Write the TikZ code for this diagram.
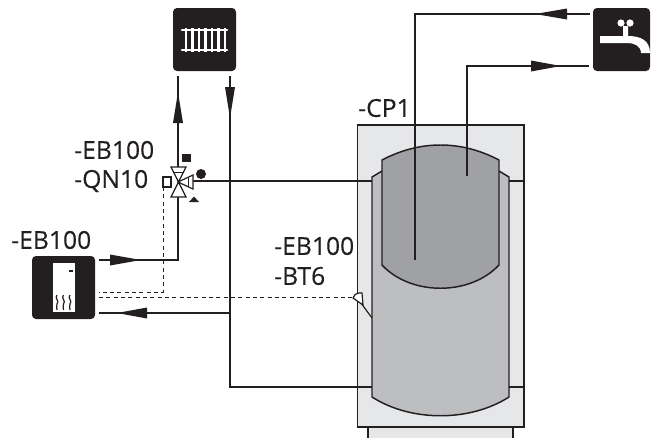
\documentclass[tikz,border=0pt]{standalone}
\usepackage{fontspec}
\setsansfont{Open Sans}[FakeBold=0.35]
\definecolor{casing}{HTML}{E6E7E8}
\definecolor{tanklow}{HTML}{BCBEC0}
\definecolor{tankup}{HTML}{A0A1A5}
\definecolor{icon}{HTML}{231F20}
\tikzset{
  pipe/.style={line width=1.1pt,draw=icon},
  signal/.style={line width=0.6pt,draw=icon,dash pattern=on 3pt off 2.5pt},
  outline/.style={line width=1.1pt,draw=icon},
  iconbox/.style={fill=icon,rounded corners=3pt},
  label/.style={font=\sffamily\fontsize{18.5}{18.5}\selectfont,text=icon,anchor=west,inner sep=0pt}
}
\begin{document}
\begin{tikzpicture}[x=0.75pt,y=-0.75pt]
    \useasboundingbox (0,0) rectangle (662,437);
    % casing
    \draw[outline,fill=casing] (368,427) rectangle (513,445);
    \draw[outline,fill=casing] (357.5,125) rectangle (524,427);
    % tanks
    \draw[outline,fill=tanklow] (372,397) -- (372,177) -- (382,171) -- (499,171) -- (509,177) -- (509,397) .. controls (470,422) and (411,422) .. (372,397) -- cycle;
    \draw[outline,fill=tankup] (382,265) -- (382,160) .. controls (420,140) and (461,140) .. (499,160) -- (499,265) .. controls (470,296) and (411,296) .. (382,265) -- cycle;
    % points
    \foreach \name/\x/\y in {hotin/415/260, hotbend/415/14, hotend/590/14, coldin/467/176, coldbend/467/66, coldend/589/66,
        valvetop/178/167, radup/178/76, valvebot/178/197, hpbend/178/260, hpout/99/260, raddown/230/76, retbend/230/387,
        tankret/372/387, hpret/99/313, retjoin/230/313, valveright/193/181, tankfeed/372/181, stubal/509/181, stuba/524/181,
        stubbl/509/387, stubb/524/387, sigbox/163/187, sigbend/163/292, sighp/99/292, sigtank/99/297, sensor/353/297} {
        \coordinate (\name) at (\x,\y);
    }
    % pipes
    \draw[pipe] (hotin) -- (hotbend) -- (hotend);
    \draw[pipe] (coldin) -- (coldbend) -- (coldend);
    \draw[pipe] (valvetop) -- (radup);
    \draw[pipe] (valvebot) -- (hpbend) -- (hpout);
    \draw[pipe] (raddown) -- (retbend) -- (tankret);
    \draw[pipe] (hpret) -- (retjoin);
    \draw[pipe] (valveright) -- (tankfeed);
    \draw[pipe] (stubal) -- (stuba);
    \draw[pipe] (stubbl) -- (stubb);
    \draw[signal] (sigbox) -- (sigbend) -- (sighp);
    \draw[signal] (sigtank) -- (sensor);
    % flow arrows
    \fill[icon] (173,123) -- (178,92) -- (183,123) -- cycle;
    \fill[icon] (225,87) -- (230,118) -- (235,87) -- cycle;
    \fill[icon] (110,254.5) -- (141,260) -- (110,265.5) -- cycle;
    \fill[icon] (147,307.5) -- (117,313) -- (147,318.5) -- cycle;
    \fill[icon] (567,8.5) -- (535,14) -- (567,19.5) -- cycle;
    \fill[icon] (531,60.5) -- (561,66) -- (531,71.5) -- cycle;
    % valve
    \draw[line width=0.9pt,draw=icon,fill=white] (171,167) -- (186,167) -- (171,197) -- (186,197) -- cycle;
    \draw[line width=0.9pt,draw=icon,fill=white] (178,182) -- (193,175) -- (193,189) -- cycle;
    \draw[line width=0.7pt,draw=icon] (173.5,172) -- (183.5,172) (188,177.5) -- (188,186.5);
    \draw[line width=0.9pt,draw=icon,fill=white] (163,177) rectangle (171,187);
    \fill[icon] (182,154) rectangle (191,162);
    \fill[icon] (201,174) circle (5);
    \fill[icon] (194,196.5) -- (199,202) -- (189,202) -- cycle;
    % sensor
    \draw[line width=0.9pt,draw=icon] (361,303) -- (372,318);
    \draw[line width=0.9pt,draw=icon,fill=white] (353,298) .. controls (354,295) and (356,293) .. (359,293) -- (362,293) -- (363,305) -- cycle;
    % radiator icon
    \fill[iconbox] (173,8) rectangle (236,71);
    \draw[white,line width=2.2pt,line cap=round] (182,30) -- (227,30) (182,50) -- (227,50);
    \foreach \x in {186,192.5,...,225} {
        \draw[white,line width=1.8pt] (\x,28) -- (\x,52);
    }
    % tap icon
    \fill[iconbox] (593,8) rectangle (650,71);
    \fill[white] (600,36) -- (623,36) -- (623,26) -- (628,26) -- (628,36) .. controls (640,36) and (650,40) .. (650,53) -- (641,53) .. controls (641,46) and (634,43) .. (628,43) -- (600,43) -- cycle;
    \fill[white] (621,23) circle (3.6) (630,23) circle (3.6);
    % heat pump icon
    \fill[iconbox] (32,256) rectangle (95,319);
    \fill[white] (53,263) rectangle (75,312);
    \fill[icon] (69,270) rectangle (73,272);
    \foreach \x in {57,63.5,70} {
        \draw[icon,line width=0.9pt] (\x,295) .. controls (\x-3,298) and (\x+3,301) .. (\x,304) .. controls (\x-2,306) and (\x+1,308) .. (\x,310);
    }
    % labels
    \node[label] (labelvalvea) at (74,150) {-EB100};
    \node[label] (labelvalveb) at (74,181) {-QN10};
    \node[label] (labelpump) at (11,240) {-EB100};
    \node[label] (labelsensora) at (274,246) {-EB100};
    \node[label] (labelsensorb) at (274,276) {-BT6};
    \node[label] (labelcasing) at (358,108) {-CP1};
\end{tikzpicture}
\end{document}
